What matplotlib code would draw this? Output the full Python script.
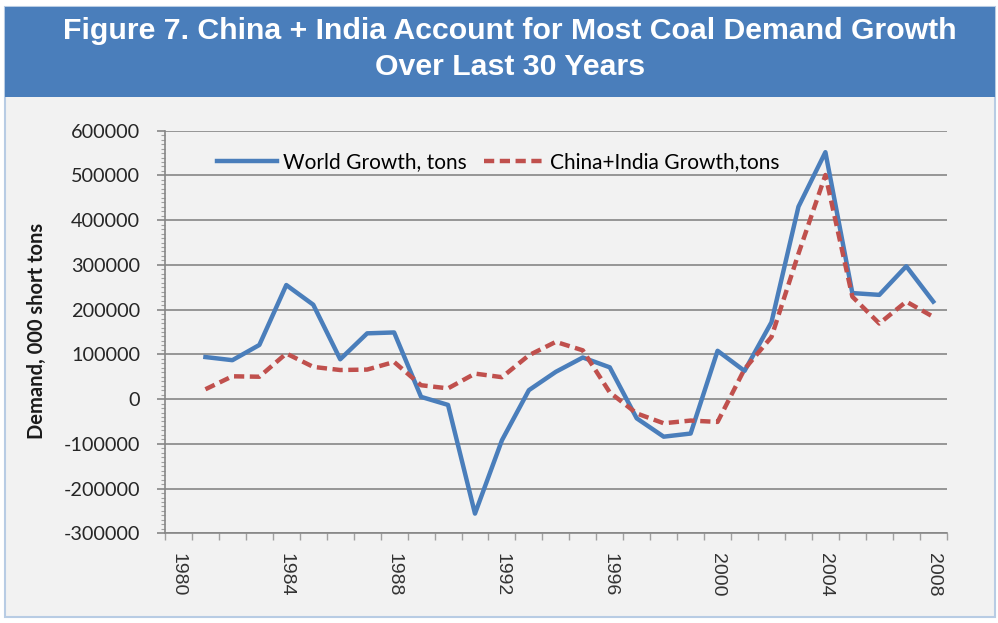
import matplotlib
matplotlib.use('Agg')
import matplotlib.pyplot as plt
from matplotlib.patches import Rectangle
from matplotlib.ticker import MultipleLocator, FixedLocator

plt.rcParams['axes.unicode_minus'] = False

# data (thousand short tons)
years = list(range(1981, 2009))
world = [94000, 87000, 121000, 255000, 211000, 89000, 147000, 149000, 5000, -13000,
         -256000, -92000, 20000, 61000, 93000, 71000, -43000, -84000, -77000, 108000,
         63000, 172000, 430000, 552000, 237000, 233000, 297000, 218000]
china_india = [22000, 51000, 50000, 102000, 72000, 65000, 66000, 83000, 31000, 24000,
               57000, 49000, 98000, 128000, 109000, 15000, -32000, -54000, -48000, -51000,
               67000, 139000, 325000, 501000, 229000, 169000, 218000, 184000]
x_labels = [1980, 1984, 1988, 1992, 1996, 2000, 2004, 2008]
y_ticks = list(range(-300000, 600001, 100000))

title_1 = 'Figure 7. China + India Account for Most Coal Demand Growth'
title_2 = 'Over Last 30 Years'
y_title = 'Demand, 000 short tons'
names = ['World Growth, tons', 'China+India Growth,tons']

W, H = 998, 623
def fx(px):
    return px / W
def fy(py):
    return 1 - py / H

fig = plt.figure(figsize=(W / 100, H / 100), dpi=100)
fig.patch.set_facecolor('white')

# chart area and blue banner
fig.add_artist(Rectangle((fx(5), fy(617)), 990 / W, 610 / H, transform=fig.transFigure,
                         facecolor='#f2f2f2', edgecolor='#b8cce4', lw=1.5, zorder=0))
fig.add_artist(Rectangle((fx(5), fy(97)), 990 / W, 90 / H, transform=fig.transFigure,
                         facecolor='#4a7ebb', edgecolor='none', zorder=1))
fig.text(fx(510), fy(39), title_1, color='white', fontsize=21.8, fontweight='bold',
         family='Liberation Sans', ha='center', va='baseline')
fig.text(fx(510), fy(75), title_2, color='white', fontsize=21.8, fontweight='bold',
         family='Liberation Sans', ha='center', va='baseline')

ax = fig.add_axes([fx(165), fy(533.3), (946.7 - 165) / W, (533.3 - 130.7) / H])
ax.set_facecolor('#f2f2f2')

ax.plot(years, world, color='#4a7ebb', lw=3.2, solid_joinstyle='round', label=names[0], zorder=3)
ax.plot(years, china_india, color='#c0504d', lw=3.2, dashes=(2.3, 1.25), label=names[1], zorder=4)

ax.set_xlim(1979.5, 2008.5)
ax.set_ylim(-300000, 600000)
ax.set_yticks(y_ticks)
ax.yaxis.set_minor_locator(MultipleLocator(10000))
ax.xaxis.set_major_locator(FixedLocator(x_labels))
ax.set_xticklabels([str(v) for v in x_labels])
ax.xaxis.set_minor_locator(FixedLocator([1979.5 + k for k in range(30)]))

ax.grid(axis='y', color='#868686', lw=1.2)
ax.set_axisbelow(True)
for s in ['top', 'right']:
    ax.spines[s].set_visible(False)
for s in ['left', 'bottom']:
    ax.spines[s].set_color('#868686')
    ax.spines[s].set_linewidth(1.2)

ax.tick_params(axis='y', which='major', length=6, width=1.2, color='#868686', pad=12,
               labelsize=14.3, labelcolor='#262626')
ax.tick_params(axis='y', which='minor', length=3, width=0.8, color='#a0a0a0')
ax.tick_params(axis='x', which='major', length=0, pad=14, labelsize=14,
               labelcolor='#333333', labelrotation=270)
ax.tick_params(axis='x', which='minor', length=5, width=1, color='#a0a0a0')
for lab in ax.get_yticklabels():
    lab.set_family('Lato')
for lab in ax.get_xticklabels():
    lab.set_family('Liberation Sans')
    lab.set_va('top')

fig.text(fx(37), fy(331), y_title, rotation=90, fontsize=14.5, fontweight='bold',
         family='Lato', color='#1a1a1a', ha='center', va='center')

ax.legend(loc='center left', bbox_to_anchor=(fx(217), fy(162)),
          bbox_transform=fig.transFigure, ncol=2, frameon=False, borderpad=0,
          borderaxespad=0, handlelength=2.9, handletextpad=0.25, columnspacing=0.85,
          prop={'family': 'Lato', 'size': 15})

fig.savefig('out.png', dpi=100)
